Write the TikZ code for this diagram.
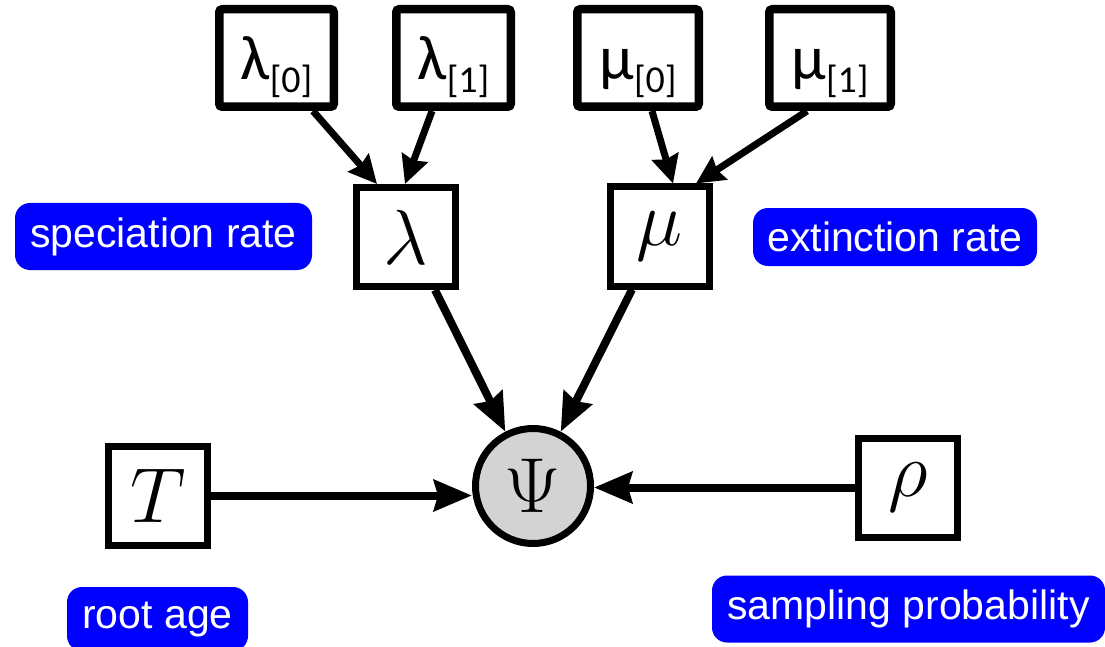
\RequirePackage{fix-cm}
\documentclass[tikz,border=0pt]{standalone}
\usepackage[no-math]{fontspec}
\setmainfont{Liberation Sans}
\newfontfamily\calib{Carlito}
\usetikzlibrary{arrows.meta,calc}
\definecolor{psigray}{RGB}{211,211,211}
\begin{document}
\begin{tikzpicture}[x=1pt,y=-1pt,
  topbox/.style={draw, line width=8.5pt, rounded corners=3pt, inner sep=0pt,
    minimum height=97.5pt, text height=44pt, text depth=0pt,
    font=\calib\fontsize{63}{63}\selectfont},
  midbox/.style={draw, line width=7pt, inner sep=0pt, minimum size=99pt,
    font=\fontsize{78}{80}\selectfont},
  psinode/.style={circle, draw, line width=7pt, fill=psigray, inner sep=0pt,
    minimum size=115pt, font=\fontsize{78}{80}\selectfont},
  tag/.style={fill=blue, text=white, rounded corners=15pt, inner sep=0pt,
    font=\fontsize{41}{41}\selectfont},
  bigarrow/.style={line width=8pt, -{Stealth[length=38pt,width=31pt,inset=4pt]}},
  smallarrow/.style={line width=7pt, -{Stealth[length=28pt,width=27pt,inset=3pt]}}
]
\useasboundingbox (0,0) rectangle (1105,647);

% top boxes
\node[topbox, minimum width=114.5pt] (L0) at (276.5,58) {λ\raisebox{-13pt}{\fontsize{38}{38}\selectfont[0]}};
\node[topbox, minimum width=114.5pt] (L1) at (453.5,58) {λ\raisebox{-13pt}{\fontsize{38}{38}\selectfont[1]}};
\node[topbox, minimum width=121.5pt] (M0) at (638,58) {μ\raisebox{-13pt}{\fontsize{38}{38}\selectfont[0]}};
\node[topbox, minimum width=121.5pt] (M1) at (830,58) {μ\raisebox{-13pt}{\fontsize{38}{38}\selectfont[1]}};

% middle boxes
\node[midbox] (lam) at (406,237) {$\lambda$};
\node[midbox] (mu) at (659.5,236.5) {$\mu$};
\node[midbox] (T) at (158,495.5) {$T$};
\node[midbox] (rho) at (908,487.5) {$\rho$};
\node[psinode] (Psi) at (533,486) {$\Psi$};

% labels
\node[tag, minimum width=297pt, minimum height=67pt] (spec) at (163.5,236.5) {speciation rate};
\node[tag, minimum width=284pt, minimum height=58pt] (ext) at (895,237) {extinction rate};
\node[tag, minimum width=181pt, minimum height=64pt] (age) at (157.5,619) {root age};
\node[tag, minimum width=393pt, minimum height=67pt] (samp) at (908.5,609) {sampling probability};

% arrows top
\draw[smallarrow] ([xshift=36.5pt]L0.south) -- ([xshift=-29pt]lam.north);
\draw[smallarrow] ([xshift=-21.5pt]L1.south) -- ([xshift=-1pt]lam.north);
\draw[smallarrow] ([xshift=14pt]M0.south) -- ([xshift=13.5pt]mu.north);
\draw[smallarrow] ([xshift=-23pt]M1.south) -- ([xshift=36.5pt]mu.north);

% arrows to Psi
\draw[bigarrow] ([xshift=29pt]lam.south) -- (Psi.117);
\draw[bigarrow] ([xshift=-27.5pt]mu.south) -- (Psi.63);
\draw[bigarrow] (T.east) -- (T.east -| Psi.west);
\draw[bigarrow] (rho.west) -- (rho.west -| Psi.east);
\end{tikzpicture}
\end{document}
